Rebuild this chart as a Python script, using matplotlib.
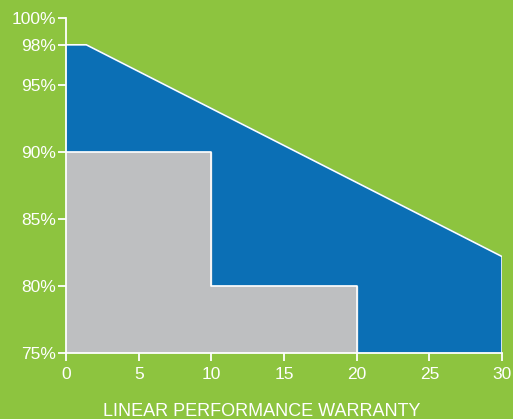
import numpy as np
import matplotlib.pyplot as plt

plt.rcParams['font.family'] = ['Liberation Sans', 'DejaVu Sans']

# warranty curve (blue) and step guarantee (gray)
linear_x = [0, 1.4, 30]
linear_y = [98, 98, 82.2]
step_x = [0, 10, 10, 20, 20]
step_y = [90, 90, 80, 80, 75]

yticks = [75, 80, 85, 90, 95, 98, 100]
ytick_labels = ['75%', '80%', '85%', '90%', '95%', '98%', '100%']
xticks = [0, 5, 10, 15, 20, 25, 30]

green = '#8DC43F'
blue = '#0B6FB5'
gray = '#BEBFC1'

fig = plt.figure(figsize=(5.13, 4.19), dpi=100, facecolor=green)
ax = fig.add_axes([0.1287, 0.1575, 0.8499, 0.7995])
ax.set_facecolor(green)

# blue area with white outline
bx = linear_x + [30, 0]
by = linear_y + [75, 75]
ax.fill(bx, by, color=blue, zorder=1)
ax.plot(linear_x + [30], linear_y + [75], color='white', lw=1.2, zorder=2)

# gray step area
gx = step_x + [0]
gy = step_y + [75]
ax.fill(gx, gy, color=gray, zorder=3)
ax.plot(step_x, step_y, color='white', lw=1.2, zorder=4)

ax.set_xlim(0, 30)
ax.set_ylim(75, 100)
ax.set_xticks(xticks)
ax.set_xticklabels([str(v) for v in xticks])
ax.set_yticks(yticks)
ax.set_yticklabels(ytick_labels)

for s in ['top', 'right']:
    ax.spines[s].set_visible(False)
for s in ['left', 'bottom']:
    ax.spines[s].set_color('white')
    ax.spines[s].set_linewidth(1.3)
    ax.spines[s].set_zorder(5)

ax.tick_params(axis='both', colors='white', labelcolor='white', labelsize=12.5,
               length=6, width=1.3, direction='out')
ax.tick_params(axis='y', pad=1)
ax.tick_params(axis='x', pad=4)

ax.set_xlabel('LINEAR PERFORMANCE WARRANTY', color='white', fontsize=13)
ax.xaxis.set_label_coords(0.45, -0.148, transform=ax.transAxes)
ax.xaxis.label.set_va('top')

fig.savefig('out.png', dpi=100, facecolor=green)
